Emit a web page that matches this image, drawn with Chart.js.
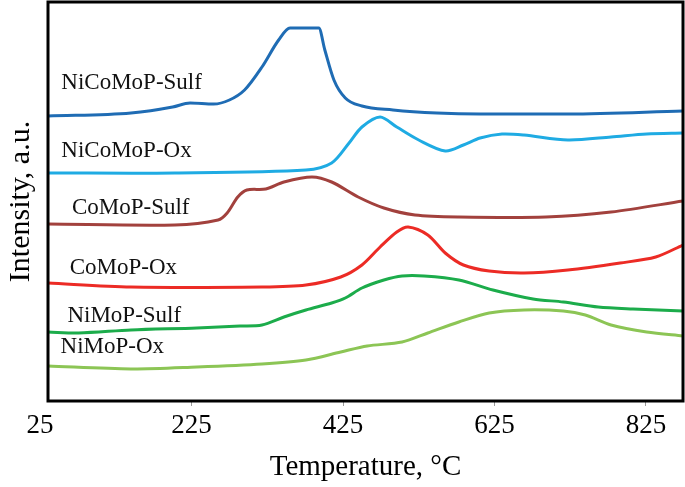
<!DOCTYPE html>
<html>
<head>
<meta charset="utf-8">
<script src="https://cdn.jsdelivr.net/npm/chart.js"></script>
<style>
  body { margin: 0; background: #fff; }
  #wrap { width: 685px; height: 487px; }
</style>
</head>
<body>
<div id="wrap"><canvas id="myChart" width="685" height="487"></canvas></div>
<script>
const tickValues = [25, 225, 425, 625, 825];

const niCoSulfT = [35, 145, 200, 223, 254, 275, 295, 318, 340, 355, 393, 401, 413, 428, 450, 491, 549, 606, 723, 874];
const niCoSulfI = [285, 288, 294, 298, 297, 301, 311, 334, 361, 373, 373, 351, 321, 303, 295, 291, 288, 287, 287, 290];

const niCoOxT = [35, 203, 376, 410, 433, 450, 474, 496, 525, 560, 584, 606, 635, 664, 722, 779, 826, 874];
const niCoOxI = [228, 228, 231, 238, 258, 274, 284, 274, 261, 250, 256, 263, 267, 266, 261, 264, 267, 268];

const coSulfT = [35, 203, 260, 272, 286, 298, 323, 347, 384, 410, 445, 479, 520, 578, 693, 779, 874];
const coSulfI = [177, 176, 181, 188, 204, 211, 212, 219, 224, 219, 204, 193, 186, 184, 184, 189, 200];

const coOxT = [35, 145, 318, 376, 422, 450, 474, 496, 511, 537, 560, 584, 618, 664, 722, 791, 838, 874];
const coOxI = [118, 114, 114, 116, 124, 136, 154, 169, 174, 166, 148, 136, 130, 128, 131, 138, 144, 156];

const niSulfT = [35, 76, 145, 232, 289, 318, 347, 376, 410, 428, 450, 479, 503, 532, 578, 623, 676, 716, 762, 808, 874];
const niSulfI = [69, 68, 71, 73, 75, 76, 84, 91, 98, 103, 113, 121, 125, 125, 121, 111, 102, 99, 94, 92, 90];

const niOxT = [35, 145, 232, 318, 376, 422, 457, 503, 537, 578, 618, 664, 716, 745, 779, 826, 874];
const niOxI = [35, 32, 34, 37, 41, 49, 55, 59, 68, 79, 88, 91, 90, 86, 76, 69, 65];

const seriesNames = ["NiCoMoP-Sulf", "NiCoMoP-Ox", "CoMoP-Sulf", "CoMoP-Ox", "NiMoP-Sulf", "NiMoP-Ox"];

const serif = '"Liberation Serif", "Times New Roman", serif';

const toPoints = (xs, ys) => xs.map((x, i) => ({ x: x, y: ys[i] }));

const makeSet = (name, xs, ys, color) => ({
    label: name,
    data: toPoints(xs, ys),
    borderColor: color,
    borderWidth: 3,
    pointRadius: 0,
    fill: false,
    tension: 0.3,
});

const datasets = [
    makeSet(seriesNames[0], niCoSulfT, niCoSulfI, "#1f6cb4"),
    makeSet(seriesNames[1], niCoOxT, niCoOxI, "#1fabe3"),
    makeSet(seriesNames[2], coSulfT, coSulfI, "#a2413d"),
    makeSet(seriesNames[3], coOxT, coOxI, "#ec2b25"),
    makeSet(seriesNames[4], niSulfT, niSulfI, "#1cac4b"),
    makeSet(seriesNames[5], niOxT, niOxI, "#8cc555"),
];
// flat-topped peak, keep it from overshooting
datasets[0].cubicInterpolationMode = "monotone";

// where each name sits, in data units (temperature, intensity)
const labelSpots = [[53, 312], [53, 244], [67, 187], [64, 127], [61, 79], [52, 48]];

const seriesLabels = {
    id: "seriesLabels",
    afterDatasetsDraw(chart) {
        const ctx = chart.ctx;
        const xs = chart.scales.x;
        const ys = chart.scales.y;
        ctx.save();
        ctx.font = "23px " + serif;
        ctx.fillStyle = "#111";
        ctx.textAlign = "left";
        ctx.textBaseline = "alphabetic";
        seriesNames.forEach((name, i) => {
            ctx.fillText(name, xs.getPixelForValue(labelSpots[i][0]), ys.getPixelForValue(labelSpots[i][1]));
        });
        ctx.restore();
    },
};

const frame = {
    id: "frame",
    afterDatasetsDraw(chart) {
        const { left, top, width, height } = chart.chartArea;
        const ctx = chart.ctx;
        ctx.save();
        ctx.lineWidth = 3;
        ctx.strokeStyle = "#000";
        ctx.strokeRect(left, top, width, height);
        ctx.restore();
    },
};

const chart = document.getElementById("myChart");

const myChart = new Chart(chart, {
    type: "line",
    data: { datasets },
    options: {
        responsive: false,
        animation: false,
        layout: { padding: { top: 2, right: 2, left: 0, bottom: 0 } },
        plugins: { legend: { display: false }, tooltip: { enabled: false } },
        scales: {
            x: {
                type: "linear",
                min: 35.4,
                max: 874,
                afterBuildTicks: (scale) => {
                    scale.ticks = tickValues.map((v) => ({ value: v }));
                },
                afterFit: (scale) => { scale.height = 86; },
                ticks: {
                    autoSkip: false,
                    maxRotation: 0,
                    padding: 4,
                    color: "#000",
                    font: { family: serif, size: 27 },
                },
                grid: {
                    drawOnChartArea: false,
                    drawTicks: true,
                    tickLength: 5,
                    lineWidth: 1,
                    color: (c) => (c.tick && c.tick.value === 25 ? "rgba(0,0,0,0)" : "#999"),
                },
                border: { display: false },
                title: {
                    display: true,
                    text: "Temperature, °C",
                    color: "#000",
                    font: { family: serif, size: 29 },
                    padding: { top: 0, bottom: 2 },
                },
            },
            y: {
                min: 0,
                max: 399,
                afterFit: (scale) => { scale.width = 48; },
                ticks: { display: false },
                grid: { display: false },
                border: { display: false },
                title: {
                    display: true,
                    text: "Intensity, a.u.",
                    color: "#000",
                    font: { family: serif, size: 30 },
                    padding: { top: 3, bottom: 0 },
                },
            },
        },
    },
    plugins: [seriesLabels, frame],
});
</script>
</body>
</html>
